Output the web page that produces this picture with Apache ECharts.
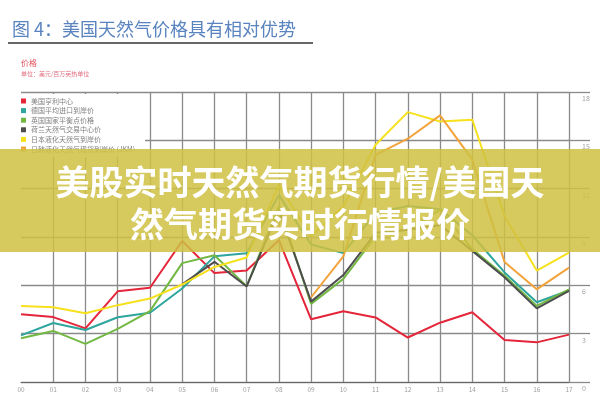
<!DOCTYPE html>
<html>
<head>
<meta charset="utf-8">
<script src="https://cdn.jsdelivr.net/npm/echarts@6/dist/echarts.min.js"></script>
<style>
html,body{margin:0;padding:0;background:#fff;}
#chart{width:600px;height:400px;}
</style>
</head>
<body>
<div id="chart"></div>
<script>
const categories = ['00','01','02','03','04','05','06','07','08','09','10','11','12','13','14','15','16','17'];
const yTicks = [0, 3, 6, 9, 12, 15, 18];

const seriesNames = ['美国亨利中心','德国平均进口到岸价','英国国家平衡点价格','荷兰天然气交易中心价','日本液化天然气到岸价','日韩液化天然气现货到岸价 (JKM)'];
const henryHub    = [4.20,4.03,3.33,5.63,5.85,8.75,6.76,6.92,8.80,3.89,4.39,4.01,2.76,3.68,4.33,2.60,2.46,2.94];
const germany     = [2.89,3.66,3.23,4.02,4.30,5.80,7.80,7.99,11.60,8.53,8.00,10.49,10.93,10.73,9.11,6.80,4.95,5.68];
const uk          = [2.71,3.17,2.37,3.30,4.40,7.38,7.87,5.95,10.90,4.85,6.40,9.04,9.46,10.70,8.25,6.60,4.72,5.75];
const netherlands = [null,null,null,null,null,6.07,7.46,5.93,10.66,4.99,6.64,9.26,9.45,9.75,8.14,6.50,4.57,5.66];
const japanLng    = [4.72,4.64,4.27,4.77,5.18,6.05,7.14,7.73,12.20,9.06,10.91,14.73,16.75,16.17,16.28,10.31,6.92,8.03];
const jkm         = [null,null,null,null,null,null,null,null,null,5.26,7.80,14.10,15.10,16.55,13.80,7.45,5.75,7.10];
const colors = ['#e4253a','#2ea59d','#72b843','#4d4d4d','#f7e01c','#f2a33a'];

const font = '"Noto Sans CJK SC", "Noto Sans", sans-serif';
const chart = echarts.init(document.getElementById('chart'), null, {renderer:'canvas'});

const allData = [henryHub, germany, uk, netherlands, japanLng, jkm];
const series = allData.map((d, i) => ({
  name: seriesNames[i],
  type: 'line',
  data: d,
  symbol: 'none',
  connectNulls: false,
  lineStyle: {width: 2, color: colors[i]},
  itemStyle: {color: colors[i]},
  z: 3
}));

chart.setOption({
  animation: false,
  textStyle: {fontFamily: font},
  grid: {left: 21, right: 31, top: 92, bottom: 18},
  legend: {
    data: seriesNames,
    orient: 'vertical',
    left: 16,
    top: 94,
    padding: [3, 10, 4, 5],
    backgroundColor: '#ffffff',
    icon: 'rect',
    itemWidth: 5,
    itemHeight: 5,
    itemGap: 1.6,
    textStyle: {fontSize: 7, color: '#808080', lineHeight: 8, fontFamily: font},
    z: 5
  },
  xAxis: {
    type: 'category',
    data: categories,
    boundaryGap: false,
    axisLine: {show: true, lineStyle: {color: '#666', width: 1.2}},
    axisTick: {show: false},
    axisLabel: {fontSize: 6.5, color: '#a0a0a0', margin: 4, fontFamily: font},
    splitLine: {show: true, interval: (idx) => idx > 0, lineStyle: {color: '#8a8a8a', width: 1.3}}
  },
  yAxis: {
    type: 'value',
    position: 'right',
    min: yTicks[0],
    max: yTicks[yTicks.length - 1],
    interval: 3,
    axisLine: {show: false},
    axisTick: {show: true, length: 21, lineStyle: {color: '#8a8a8a', width: 1.3}},
    axisLabel: {fontSize: 7, color: '#a0a0a0', margin: 13, align: 'left', verticalAlign: 'top', padding: [3, 0, 0, 0], fontFamily: font},
    splitLine: {show: true, lineStyle: {color: '#8a8a8a', width: 1.3}}
  },
  series: series,
  graphic: [
    {type: 'text', left: 12, top: 20, z: 50,
     style: {text: '图 4：美国天然气价格具有相对优势', font: '18px ' + font, fill: '#5a84bf'}},
    {type: 'line', z: 50, shape: {x1: 8, y1: 43, x2: 313, y2: 43}, style: {stroke: '#333', lineWidth: 1.5}},
    {type: 'text', left: 21, top: 59, z: 50,
     style: {text: '价格', font: '8px ' + font, fill: '#e0505a'}},
    {type: 'text', left: 21, top: 71, z: 50,
     style: {text: '单位：美元/百万英热单位', font: '6px ' + font, fill: '#e07080'}},
    {type: 'rect', z: 100, shape: {x: 0, y: 149, width: 600, height: 103},
     style: {fill: 'rgba(207,192,66,0.86)'}},
    {type: 'text', z: 101, x: 300, y: 182,
     style: {text: '美股实时天然气期货行情/美国天', font: 'bold 34px ' + font, fill: '#ffffff', align: 'center', verticalAlign: 'middle'}},
    {type: 'text', z: 101, x: 300, y: 224,
     style: {text: '然气期货实时行情报价', font: 'bold 34px ' + font, fill: '#ffffff', align: 'center', verticalAlign: 'middle'}}
  ]
});
</script>
</body>
</html>
